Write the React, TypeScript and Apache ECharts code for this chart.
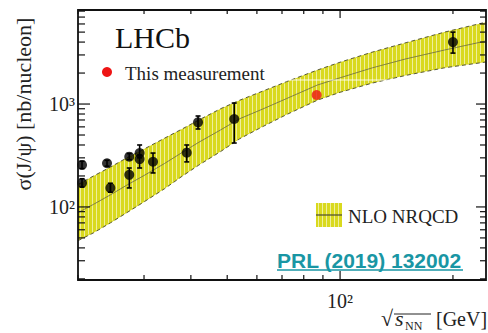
import React, { useEffect, useRef } from 'react';
import * as echarts from 'echarts';

// Data points (other experiments)
const pointX = [20.5, 20.5, 23.9, 24.4, 27.4, 27.4, 29.2, 29.2, 31.7, 39.0, 41.8, 52.2, 200];
const pointY = [256, 171, 266, 153, 308, 205, 334, 292, 275, 337, 664, 715, 4000];
const pointLow = [236, 156, 249, 139, 288, 153, 300, 239, 214, 274, 572, 418, 3126];
const pointHigh = [278, 188, 284, 170, 330, 239, 400, 320, 334, 400, 765, 1022, 5000];

// This measurement
const lhcbX = [86.6];
const lhcbY = [1225];

// NLO NRQCD band
const bandX = [20, 22, 24.4, 27, 30, 34, 38, 42, 48, 54, 62, 72, 87, 100, 122, 150, 190, 245];
const bandUpper = [165, 200, 244, 300, 365, 465, 575, 700, 900, 1090, 1330, 1650, 2140, 2550, 3200, 3950, 5000, 6250];
const bandLower = [47, 56, 70, 88, 112, 150, 200, 255, 345, 460, 600, 790, 1090, 1300, 1600, 1900, 2250, 2560];
const bandCenter = [88, 106, 131, 163, 202, 264, 340, 425, 560, 720, 890, 1130, 1530, 1800, 2250, 2750, 3350, 4100];

// Axes
const xMin = 20;
const xMax = 245;
const yMin = 19.5;
const yMax = 8200;
const xTicks = [20, 30, 40, 50, 60, 70, 80, 90, 100, 200];
const xMajorTicks = [100];
const yTicks = [20, 30, 40, 50, 60, 70, 80, 90, 100, 200, 300, 400, 500, 600, 700, 800, 900, 1000, 2000, 3000, 4000, 5000, 6000, 7000, 8000];
const yMajorTicks = [100, 1000];
const xLabelValues = [100];
const xLabelTexts = ['10²'];
const yLabelValues = [100, 1000];
const yLabelTexts = ['10²', '10³'];

const SERIF = 'Liberation Serif';
const BAND_FILL = '#d9d91e';
const HATCH = '#efef9c';
const EDGE = '#5a5a3a';

function labelFor(v: number, values: number[], texts: string[]) {
  const i = values.findIndex((t) => Math.abs(Math.log10(v) - Math.log10(t)) < 1e-6);
  return i >= 0 ? texts[i] : '';
}

function interp(arr: number[][], px: number) {
  for (let i = 0; i < arr.length - 1; i++) {
    if (px >= arr[i][0] && px <= arr[i + 1][0]) {
      const t = (px - arr[i][0]) / (arr[i + 1][0] - arr[i][0] || 1);
      return arr[i][1] + t * (arr[i + 1][1] - arr[i][1]);
    }
  }
  return arr[arr.length - 1][1];
}

export default function App() {
  const ref = useRef<HTMLDivElement>(null);
  useEffect(() => {
    if (!ref.current) return;
    const chart = echarts.init(ref.current, null, { renderer: 'svg' });

    const renderBand = (params: any, api: any) => {
      const up = bandX.map((x, i) => api.coord([x, bandUpper[i]]));
      const lo = bandX.map((x, i) => api.coord([x, bandLower[i]]));
      const ce = bandX.map((x, i) => api.coord([x, bandCenter[i]]));
      const poly = up.concat(lo.slice().reverse());
      const children: any[] = [
        { type: 'polygon', shape: { points: poly }, style: { fill: BAND_FILL, stroke: 'none' } },
      ];
      const x0 = up[0][0];
      const x1 = up[up.length - 1][0];
      for (let px = Math.floor(x0) + 2.5; px < x1; px += 4) {
        children.push({
          type: 'line',
          shape: { x1: px, y1: interp(up, px) + 1, x2: px, y2: interp(lo, px) - 1 },
          style: { stroke: HATCH, lineWidth: 1 },
        });
      }
      children.push({ type: 'polyline', shape: { points: up }, style: { stroke: EDGE, lineWidth: 1, lineDash: [4, 3], fill: 'none' } });
      children.push({ type: 'polyline', shape: { points: lo }, style: { stroke: EDGE, lineWidth: 1, lineDash: [4, 3], fill: 'none' } });
      children.push({ type: 'polyline', shape: { points: ce }, style: { stroke: '#6a6a40', lineWidth: 0.8, fill: 'none' } });
      return { type: 'group', children };
    };

    const renderTicks = (params: any, api: any) => {
      const cs = params.coordSys;
      const left = cs.x, top = cs.y, right = cs.x + cs.width, bottom = cs.y + cs.height;
      const children: any[] = [];
      const st = { stroke: '#111', lineWidth: 1.2 };
      xTicks.forEach((v) => {
        const p = api.coord([v, yMin]);
        const major = xMajorTicks.includes(v);
        const lb = major ? 9 : 5;
        const lt = major ? 8 : 4;
        children.push({ type: 'line', shape: { x1: p[0], y1: bottom, x2: p[0], y2: bottom - lb }, style: st });
        children.push({ type: 'line', shape: { x1: p[0], y1: top, x2: p[0], y2: top + lt }, style: st });
      });
      yTicks.forEach((v) => {
        const p = api.coord([xMin, v]);
        const major = yMajorTicks.includes(v);
        const ll = major ? 12 : 7;
        const lr = major ? 10 : 6;
        children.push({ type: 'line', shape: { x1: left, y1: p[1], x2: left + ll, y2: p[1] }, style: st });
        children.push({ type: 'line', shape: { x1: right, y1: p[1], x2: right - lr, y2: p[1] }, style: st });
      });
      children.push({
        type: 'rect',
        shape: { x: left, y: top, width: cs.width, height: cs.height },
        style: { fill: 'none', stroke: '#111', lineWidth: 1.8 },
      });
      return { type: 'group', children };
    };

    const renderErr = (params: any, api: any) => {
      const x = api.value(0);
      const lo = api.coord([x, api.value(1)]);
      const hi = api.coord([x, api.value(2)]);
      const st = { stroke: '#000', lineWidth: 1.6 };
      return {
        type: 'group',
        children: [
          { type: 'line', shape: { x1: lo[0], y1: lo[1], x2: hi[0], y2: hi[1] }, style: st },
          { type: 'line', shape: { x1: lo[0] - 2.5, y1: lo[1], x2: lo[0] + 2.5, y2: lo[1] }, style: st },
          { type: 'line', shape: { x1: hi[0] - 2.5, y1: hi[1], x2: hi[0] + 2.5, y2: hi[1] }, style: st },
        ],
      };
    };

    const option: any = {
      animation: false,
      backgroundColor: '#fff',
      grid: { left: 78, top: 10, right: 2, bottom: 53, show: false },
      xAxis: {
        type: 'log',
        logBase: 10,
        min: xMin,
        max: xMax,
        axisLine: { show: false },
        axisTick: { show: false },
        splitLine: { show: false },
        axisLabel: {
          margin: 11,
          fontFamily: SERIF,
          fontSize: 20,
          color: '#222',
          showMinLabel: false,
          showMaxLabel: false,
          formatter: (v: number) => labelFor(v, xLabelValues, xLabelTexts),
        },
      },
      yAxis: {
        type: 'log',
        logBase: 10,
        min: yMin,
        max: yMax,
        axisLine: { show: false },
        axisTick: { show: false },
        splitLine: { show: false },
        axisLabel: {
          margin: 3,
          fontFamily: SERIF,
          fontSize: 20,
          color: '#222',
          showMinLabel: false,
          showMaxLabel: false,
          formatter: (v: number) => labelFor(v, yLabelValues, yLabelTexts),
        },
      },
      series: [
        {
          type: 'custom',
          coordinateSystem: 'cartesian2d',
          renderItem: renderBand,
          data: [[bandX[0], bandLower[0]]],
          clip: true,
          silent: true,
          z: 1,
        },
        {
          type: 'custom',
          coordinateSystem: 'cartesian2d',
          renderItem: renderErr,
          data: pointX.map((x, i) => [x, pointLow[i], pointHigh[i]]),
          encode: { x: 0, y: [1, 2] },
          clip: true,
          z: 3,
        },
        {
          type: 'scatter',
          data: pointX.map((x, i) => [x, pointY[i]]),
          symbol: 'circle',
          symbolSize: 10,
          itemStyle: { color: '#000' },
          z: 4,
        },
        {
          type: 'scatter',
          data: lhcbX.map((x, i) => [x, lhcbY[i]]),
          symbol: 'circle',
          symbolSize: 10,
          itemStyle: { color: '#ee1515' },
          z: 4,
        },
        {
          type: 'custom',
          coordinateSystem: 'cartesian2d',
          renderItem: renderTicks,
          data: [[xMin, yMin]],
          clip: false,
          silent: true,
          z: 5,
        },
      ],
      graphic: [
        { type: 'line', shape: { x1: 290, y1: 80, x2: 426, y2: 80 }, style: { stroke: '#ffffff', lineWidth: 1, opacity: 0.85 }, z: 2 },
        { type: 'text', left: 115, top: 22, style: { text: 'LHCb', font: `30px "${SERIF}"`, fill: '#111' } },
        { type: 'circle', shape: { cx: 107, cy: 72, r: 5 }, style: { fill: '#ee1515' } },
        { type: 'text', x: 125, y: 73, style: { text: 'This measurement', font: `19px "${SERIF}"`, fill: '#222', verticalAlign: 'middle' } },
        {
          type: 'group',
          children: [
            { type: 'rect', shape: { x: 316, y: 203, width: 26, height: 24 }, style: { fill: BAND_FILL } },
            ...[318.5, 322.5, 326.5, 330.5, 334.5, 338.5].map((x) => ({
              type: 'line',
              shape: { x1: x, y1: 203, x2: x, y2: 227 },
              style: { stroke: HATCH, lineWidth: 1 },
            })),
            { type: 'line', shape: { x1: 316, y1: 215, x2: 342, y2: 215 }, style: { stroke: '#4a4a30', lineWidth: 1.2 } },
          ],
        },
        { type: 'text', x: 348, y: 216, style: { text: 'NLO NRQCD', font: `19px "${SERIF}"`, fill: '#222', verticalAlign: 'middle' } },
        { type: 'text', x: 277, y: 260, style: { text: 'PRL (2019) 132002', font: `bold 21px "Liberation Sans"`, fill: '#1996a4', verticalAlign: 'middle' } },
        { type: 'line', shape: { x1: 277, y1: 270, x2: 463, y2: 270 }, style: { stroke: '#1996a4', lineWidth: 1.6 } },
        {
          type: 'text',
          x: 23,
          y: 104,
          rotation: Math.PI / 2,
          style: { text: 'σ(J/ψ) [nb/nucleon]', font: `22px "${SERIF}"`, fill: '#222', align: 'center', verticalAlign: 'middle' },
        },
        { type: 'text', x: 381, y: 329, style: { text: '√', font: `22px "${SERIF}"`, fill: '#222', verticalAlign: 'bottom' } },
        { type: 'line', shape: { x1: 394, y1: 314, x2: 431, y2: 314 }, style: { stroke: '#222', lineWidth: 1 } },
        { type: 'text', x: 395, y: 329, style: { text: 's', font: `italic 22px "${SERIF}"`, fill: '#222', verticalAlign: 'bottom' } },
        { type: 'text', x: 405, y: 332, style: { text: 'NN', font: `12px "${SERIF}"`, fill: '#222', verticalAlign: 'bottom' } },
        { type: 'text', x: 436, y: 329, style: { text: '[GeV]', font: `20px "${SERIF}"`, fill: '#222', verticalAlign: 'bottom' } },
      ],
    };
    chart.setOption(option);
    return () => chart.dispose();
  }, []);
  return <div ref={ref} style={{ position: 'fixed', left: 0, top: 0, width: 488, height: 333 }} />;
}
